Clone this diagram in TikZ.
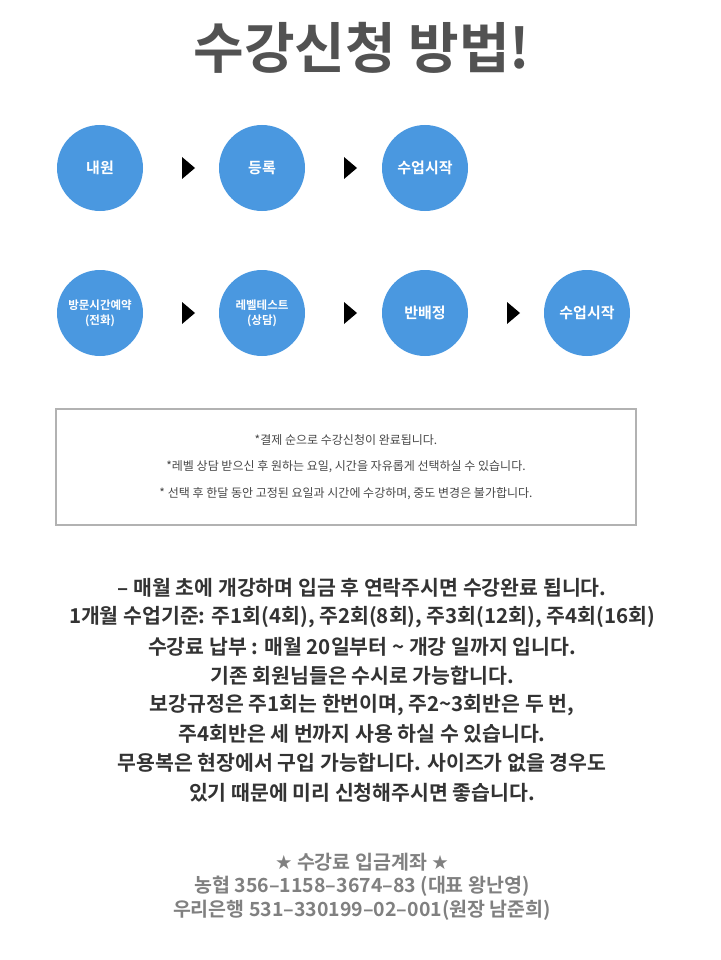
\documentclass[tikz,border=0pt]{standalone}
\usepackage{fontspec}
\setmainfont{Noto Sans CJK KR}
\newfontfamily\kb{Noto Sans CJK KR Bold}
\newfontfamily\sym{DejaVu Sans}
\definecolor{cblue}{HTML}{4A98E0}
\definecolor{tgray}{HTML}{333333}
\definecolor{bgray}{HTML}{808080}
\begin{document}
\begin{tikzpicture}[x=1pt,y=-1pt,
  circ/.style={circle,fill=cblue,minimum size=86pt,inner sep=0pt,text=white,font=\kb\fontsize{15}{17}\selectfont,align=center},
  circs/.style={circ,font=\kb\fontsize{11.5}{15}\selectfont},
  note/.style={font=\fontsize{12}{14}\selectfont,text=tgray!90},
  mline/.style={font=\kb\fontsize{20.5}{22}\selectfont,text=tgray},
  bline/.style={font=\kb\fontsize{19.5}{21}\selectfont,text=bgray}]
\useasboundingbox (0,0) rectangle (720,960);
\node[font=\kb\fontsize{55}{58}\selectfont,text=tgray!85] (title) at (362,48) {수강신청 방법!};
\node[circ] (a1) at (100,168) {내원};
\node[circ] (a2) at (262,168) {등록};
\node[circ] (a3) at (425,168) {수업시작};
\node[circs] (b1) at (100,313) {방문시간예약\\(전화)};
\node[circs] (b2) at (262,313) {레벨테스트\\(상담)};
\node[circ] (b3) at (425,313) {반배정};
\node[circ] (b4) at (587,313) {수업시작};
\foreach \x/\y in {188/168,350/168,188/313,350/313,513/313}
  \fill (\x-6,\y-11) -- (\x+7,\y) -- (\x-6,\y+11) -- cycle;
\node[draw=black!30,line width=2.5pt,minimum width=580pt,minimum height=116pt] (box) at (346,467) {};
\node[note] (n1) at (346,440) {*결제 순으로 수강신청이 완료됩니다.};
\node[note] (n2) at (346,467) {*레벨 상담 받으신 후 원하는 요일, 시간을 자유롭게 선택하실 수 있습니다.};
\node[note] (n3) at (346,494) {* 선택 후 한달 동안 고정된 요일과 시간에 수강하며, 중도 변경은 불가합니다.};
\foreach \t [count=\i from 0] in {{– 매월 초에 개강하며 입금 후 연락주시면 수강완료 됩니다.},
 {1개월 수업기준: 주1회(4회), 주2회(8회), 주3회(12회), 주4회(16회)},
 {수강료 납부 : 매월 20일부터 \textasciitilde{} 개강 일까지 입니다.},
 {기존 회원님들은 수시로 가능합니다.},
 {보강규정은 주1회는 한번이며, 주2\textasciitilde3회반은 두 번,},
 {주4회반은 세 번까지 사용 하실 수 있습니다.},
 {무용복은 현장에서 구입 가능합니다. 사이즈가 없을 경우도},
 {있기 때문에 미리 신청해주시면 좋습니다.}}
  \node[mline] (m\i) at (362,588+29.2*\i) {\t};
\node[bline] (c1) at (362,862) {{\sym★} 수강료 입금계좌 {\sym★}};
\node[bline] (c2) at (362,886) {농협 356–1158–3674–83 (대표 왕난영)};
\node[bline] (c3) at (362,910) {우리은행 531–330199–02–001(원장 남준희)};
\end{tikzpicture}
\end{document}
